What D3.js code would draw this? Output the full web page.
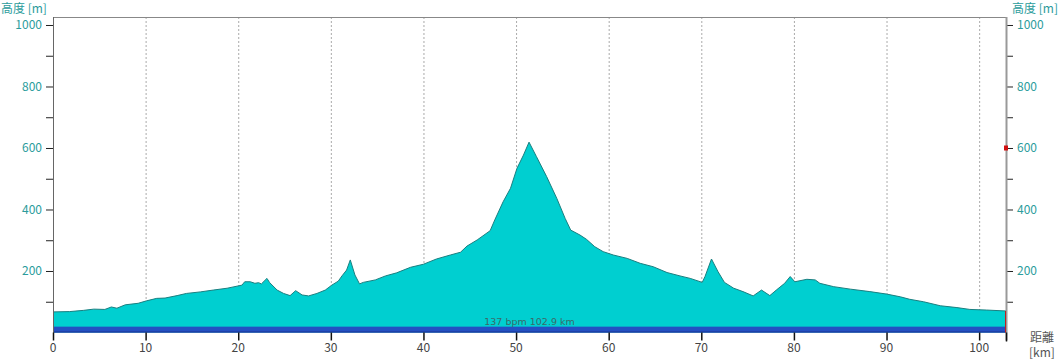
<!DOCTYPE html>
<html><head><meta charset="utf-8">
<script src="https://cdn.jsdelivr.net/npm/d3@7"></script>
<style>
body{margin:0;background:#fff;}
svg{display:block;font-family:"Noto Sans CJK JP","DejaVu Sans",sans-serif;}
</style></head><body>
<svg id="c" width="1060" height="360"></svg>
<script>
const distKm = [0,1.8,3.3,4.4,5.6,6.3,6.9,7.8,9.2,10.1,11.2,12.1,13.4,14.4,15.9,17.3,18.8,20.4,20.7,21.3,21.8,22.2,22.5,23.1,23.4,24.2,24.9,25.6,26.2,26.9,27.6,28.5,29.4,30.1,30.8,31.2,31.7,32.1,32.6,33.1,33.5,34.8,35.9,37.1,38.6,40.0,41.4,42.9,44.0,44.7,45.8,47.2,47.7,48.6,49.4,50.1,50.8,51.4,52.2,53.3,54.4,55.3,55.9,56.9,57.6,58.5,59.4,60.5,62.0,63.4,64.8,66.3,67.7,68.8,70.1,70.4,71.1,71.8,72.5,73.5,74.5,75.6,76.5,77.4,78.1,79.0,79.6,80.1,81.4,82.3,82.8,84.3,86.1,88.2,90.0,91.5,92.5,94.0,95.8,97.6,99.0,100.8,102.9];
const elevM = [67,68,72,76,75,83,79,90,95,103,111,112,120,127,132,138,144,154,165,165,160,162,158,176,162,138,127,120,136,122,119,127,138,154,167,184,203,236,187,158,163,171,184,194,212,222,239,252,261,281,301,331,366,425,469,534,577,619,572,507,436,371,333,317,303,279,263,252,241,225,214,195,184,176,163,182,239,198,163,144,133,119,138,120,138,160,182,165,173,171,160,149,141,133,125,116,108,100,87,81,75,73,70];
const yTicksMajor = [200,400,600,800,1000];
const yTicksMinor = [100,200,300,400,500,600,700,800,900,1000];
const xTicks = [0,10,20,30,40,50,60,70,80,90,100];
const bandLabel = "137 bpm 102.9 km";
const bandRange = [0, 19];
const markerElev = 600;
const yTitle = "高度 [m]";
const xTitle1 = "距離", xTitle2 = "[km]";

const svg = d3.select("#c");
const L = 53, R = 1006, T = 17, B = 332.5;
const x = d3.scaleLinear().domain([0,102.9]).range([L,R]);
const y = d3.scaleLinear().domain([0,1026]).range([B,T]);
const teal = "#2b9c9c";

// grid
svg.append("g").selectAll("line").data(xTicks.filter(d=>d>0)).join("line")
  .attr("x1",d=>x(d)+0.5).attr("x2",d=>x(d)+0.5).attr("y1",T).attr("y2",B)
  .attr("stroke","#aaa").attr("stroke-width",1).attr("stroke-dasharray","2,2");

// area
const data = distKm.map((d,i)=>({d, e:elevM[i]}));
svg.append("path").datum(data)
  .attr("d", d3.area().x(p=>x(p.d)).y0(B).y1(p=>y(p.e)))
  .attr("fill","#00cfd0");
svg.append("path").datum(data)
  .attr("d", d3.line().x(p=>x(p.d)).y(p=>y(p.e)))
  .attr("fill","none").attr("stroke","#1a7f80").attr("stroke-width",1);

// band
svg.append("rect").attr("x",x(0)).attr("width",x(102.9)-x(0))
  .attr("y",y(bandRange[1])).attr("height",y(bandRange[0])-y(bandRange[1]))
  .attr("fill","#2350c2");
svg.append("line").attr("x1",x(0)).attr("x2",x(102.9)).attr("y1",B-0.5).attr("y2",B-0.5)
  .attr("stroke","#1a3090").attr("stroke-width",1);
svg.append("text").attr("x",(x(0)+x(102.9))/2).attr("y",y(bandRange[1])-2)
  .attr("text-anchor","middle").attr("font-size",9.5).attr("fill","#3a6a6a")
  .attr("font-family","DejaVu Sans").text(bandLabel);

// frame top
svg.append("line").attr("x1",L).attr("x2",R).attr("y1",T+0.5).attr("y2",T+0.5).attr("stroke","#888");

// left axis
const gl = svg.append("g").attr("transform",`translate(${L},0)`);
gl.call(d3.axisLeft(y).tickValues(yTicksMinor).tickSize(7).tickFormat(""));
gl.select(".domain").remove();
gl.selectAll(".tick line").attr("stroke","#222");
svg.append("line").attr("x1",L+0.5).attr("x2",L+0.5).attr("y1",T).attr("y2",B+1).attr("stroke","#666");
svg.append("g").selectAll("text").data(yTicksMajor).join("text")
  .attr("x",L-11).attr("y",d=>y(d)+4.5).attr("text-anchor","end")
  .attr("font-size",12).attr("fill",teal).text(d=>d);

// right axis
const gr = svg.append("g").attr("transform",`translate(${R},0)`);
gr.call(d3.axisRight(y).tickValues(yTicksMinor).tickSize(7).tickFormat(""));
gr.select(".domain").remove();
gr.selectAll(".tick line").attr("stroke","#222");
svg.append("line").attr("x1",R+0.5).attr("x2",R+0.5).attr("y1",T).attr("y2",B+8).attr("stroke","#999").attr("stroke-width",2);
svg.append("g").selectAll("text").data(yTicksMajor).join("text")
  .attr("x",R+11).attr("y",d=>y(d)+4.5).attr("text-anchor","start")
  .attr("font-size",12).attr("fill",teal).text(d=>d);

// marker
svg.append("rect").attr("x",R-2).attr("y",y(markerElev)-2.5).attr("width",4).attr("height",5).attr("fill","#d01010");
svg.append("line").attr("x1",R-0.5).attr("x2",R-0.5).attr("y1",y(70)).attr("y2",B).attr("stroke","#c02020");

// bottom axis
const gb = svg.append("g").attr("transform",`translate(0,${B})`);
gb.call(d3.axisBottom(x).tickValues(xTicks).tickSize(8).tickFormat(""));
gb.select(".domain").remove();
gb.selectAll(".tick line").attr("stroke","#111").attr("stroke-width",1.5);
svg.append("line").attr("x1",R+0.5).attr("x2",R+0.5).attr("y1",B).attr("y2",B+9).attr("stroke","#111").attr("stroke-width",1.5);
svg.append("g").selectAll("text").data(xTicks).join("text")
  .attr("x",d=>x(d)).attr("y",B+19).attr("text-anchor","middle")
  .attr("font-size",12).attr("fill","#444").text(d=>d);

// titles
svg.append("text").attr("x",1).attr("y",13).attr("font-size",12).attr("fill",teal).text(yTitle);
svg.append("text").attr("x",1058).attr("y",13).attr("text-anchor","end").attr("font-size",12).attr("fill",teal).text(yTitle);
svg.append("text").attr("x",1030).attr("y",342).attr("font-size",12).attr("fill","#555").text(xTitle1);
svg.append("text").attr("x",1029).attr("y",357).attr("font-size",12).attr("fill","#555").text(xTitle2);
</script></body></html>
